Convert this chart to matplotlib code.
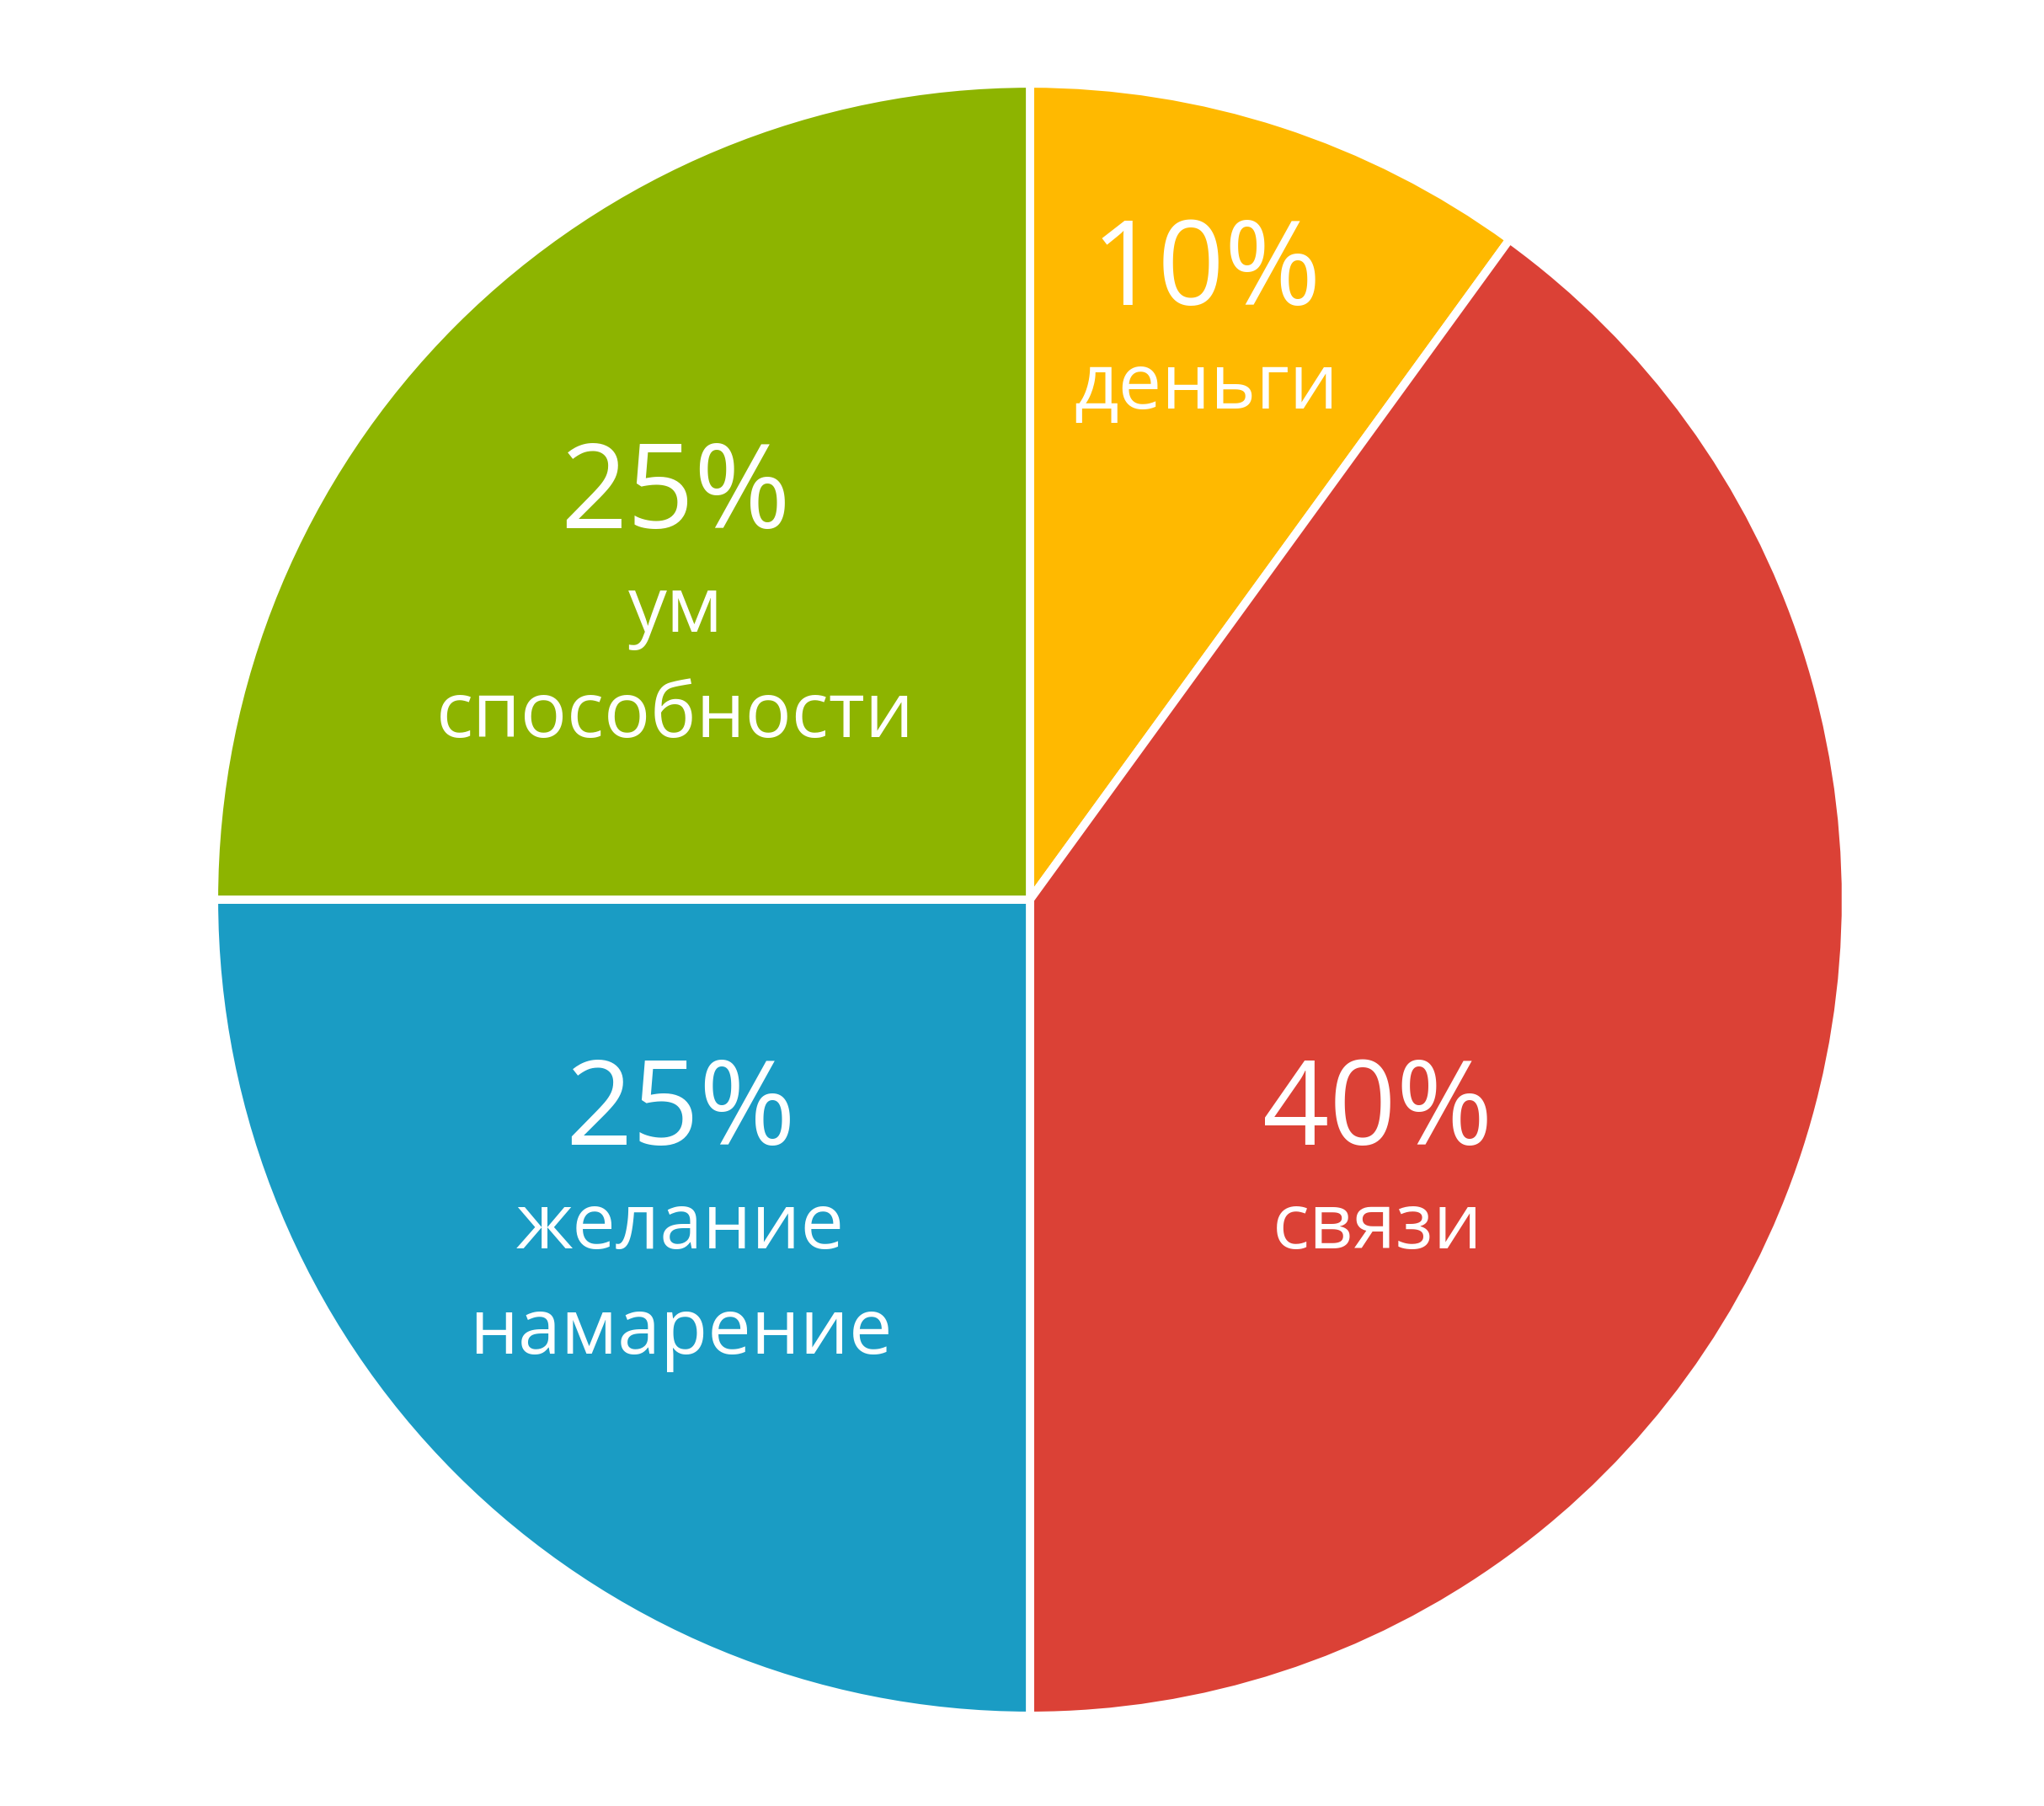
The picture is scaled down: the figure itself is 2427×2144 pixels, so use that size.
import matplotlib
matplotlib.use("Agg")
import matplotlib.pyplot as plt

shares = [10, 40, 25, 25]
pct_labels = ["10%", "40%", "25%", "25%"]
names = ["деньги", "связи", "желание\nнамарение", "ум\nспособности"]
colors = ["#FFB900", "#DB4136", "#1A9CC4", "#8DB400"]

# label anchor (x, baseline y of percent) per slice, in pie units
label_pos = [(0.217, 0.733), (0.429, -0.302), (-0.431, -0.302), (-0.437, 0.458)]

plt.rcParams['font.family'] = ['Open Sans', 'DejaVu Sans']

fig = plt.figure(figsize=(24.27, 21.44), dpi=100)
ax = fig.add_axes([0.1071, 0.0527, 0.7936, 0.8983])
ax.pie(shares, colors=colors, startangle=90, counterclock=False, radius=1.006,
       wedgeprops=dict(edgecolor="white", linewidth=7))
ax.set_aspect("equal")
ax.set_xlim(-1, 1)
ax.set_ylim(-1, 1)
ax.axis("off")

for (x, y), p, n in zip(label_pos, pct_labels, names):
    ax.text(x, y, p, ha="center", va="baseline", color="white", fontsize=100)
    for i, line in enumerate(n.split("\n")):
        ax.text(x, y - 0.128 - i * 0.130, line, ha="center", va="baseline",
                color="white", fontsize=66)

fig.savefig("out.png", dpi=100, facecolor="white")
